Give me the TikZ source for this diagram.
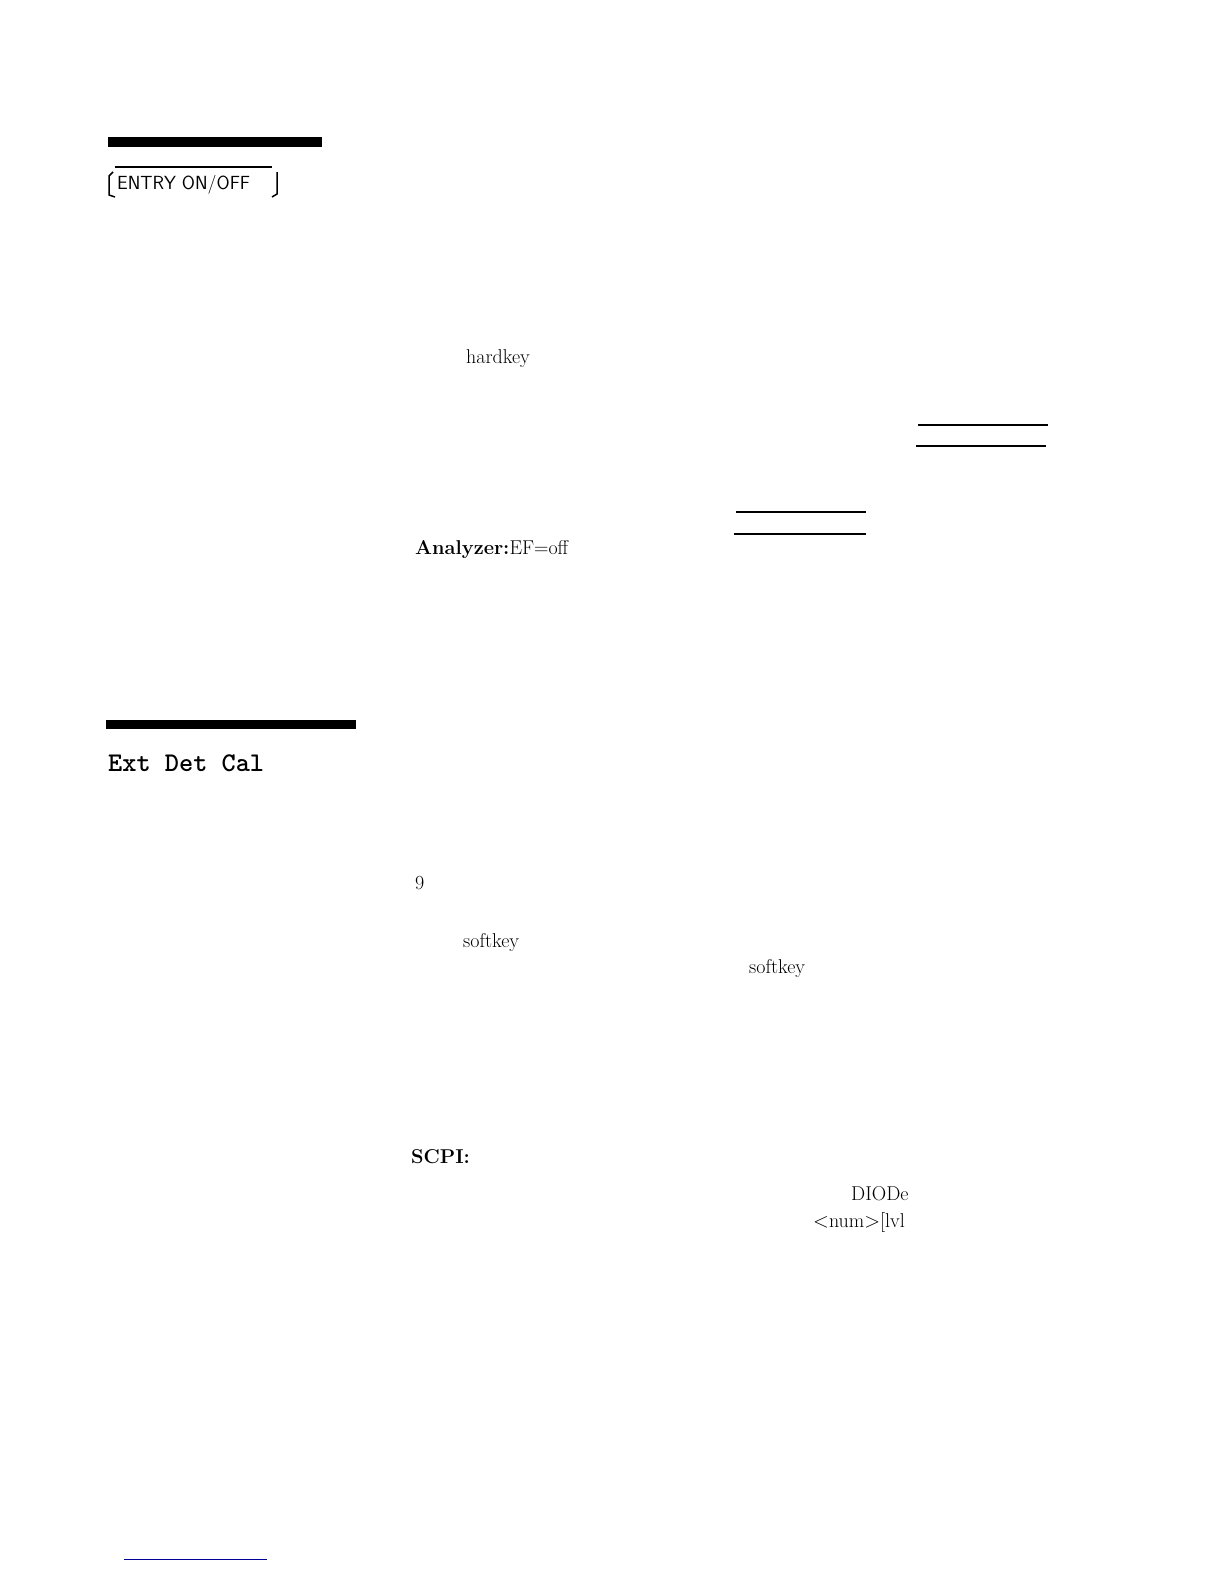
\documentclass[tikz,border=0pt]{standalone}
\usepackage{amsmath,amssymb}
\usetikzlibrary{positioning}
\tikzset{
  txt/.style={anchor=base west,inner sep=0pt,font=\fontsize{20}{24}\selectfont},
  bar/.style={line width=9pt},
  rule/.style={line width=1.5pt},
}
\begin{document}
\begin{tikzpicture}[x=1pt,y=-1pt]
\useasboundingbox (0,0) rectangle (1224,1584);
% section bars
\draw[bar] (108,142) -- (322,142);
\draw[bar] (106,724) -- (356,724);
% hardkey
\node[txt,font=\sffamily\fontsize{19}{22}\selectfont] (entry) at (117,189) {ENTRY ON/OFF};
\draw[line width=1.5pt] (115,167) -- (272,167);
\draw[line width=1.5pt] (113,172) -- (109,176) -- (109,195) -- (115,197);
\draw[line width=1.5pt] (272,197) -- (277,194) -- (277,172);
\node[txt] (hk) at (466,363) {hardkey};
\draw[rule] (918,425) -- (1048,425);
\draw[line width=2.5pt] (916,446) -- (1046,446);
\draw[rule] (736,512) -- (866,512);
\draw[line width=2.5pt] (734,534) -- (866,534);
\node[txt] (an) at (415,554) {\textbf{Analyzer:}EF=off};
% softkey
\node[txt,font=\ttfamily\bfseries\fontsize{27}{30}\selectfont] (edc) at (108,771) {Ext Det Cal};
\node[txt] (nine) at (415,889) {9};
\node[txt] (sk1) at (463,947) {softkey};
\node[txt] (sk2) at (749,973) {softkey};
\node[txt] (scpi) at (411,1163) {\textbf{SCPI:}};
\node[txt] (diode) at (851,1200) {DIODe};
\node[txt] (num) at (813,1227) {$<$num$>$[lvl};
\draw[line width=0.8pt,blue!60!black] (124,1559) -- (267,1559);
\end{tikzpicture}
\end{document}
